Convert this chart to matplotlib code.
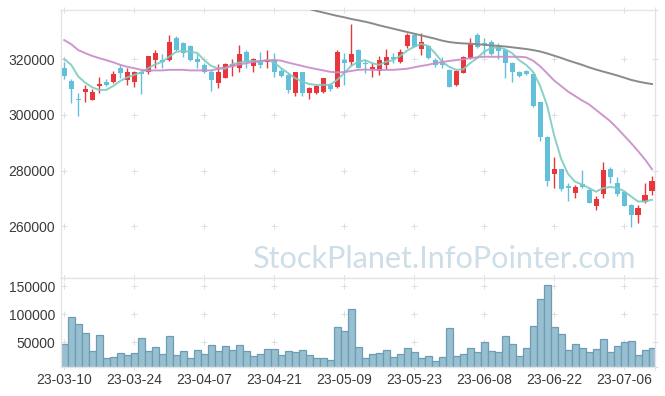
import numpy as np
import matplotlib.pyplot as plt

# daily candles, 2023-03-10 .. 2023-07-12 (85 trading days)
tick_labels = ['23-03-10', '23-03-24', '23-04-07', '23-04-21', '23-05-09',
               '23-05-23', '23-06-08', '23-06-22', '23-07-06']
tick_index = [0, 10, 20, 30, 40, 50, 60, 70, 80]

opens = [316900, 312200, 305600, 308400, 305500, 310400, 311900, 311900, 317000, 312600,
         312000, 315500, 315500, 319900, 319700, 319700, 327600, 325900, 324700, 320100,
         318000, 315400, 311600, 313400, 317700, 317000, 322700, 317700, 319500, 319100,
         319700, 315800, 314400, 307800, 315300, 308000, 307800, 308400, 310800, 310200,
         319700, 319100, 323300, 318600, 316600, 315900, 318000, 320600, 319100, 324800,
         328700, 323600, 324800, 319700, 318600, 316200, 310800, 315200, 320600, 328700,
         325700, 326100, 324300, 323300, 318800, 315400, 315800, 314700, 304600, 292000,
         278600, 280500, 274300, 272100, 275100, 273100, 267100, 271500, 280600, 275500,
         272300, 267700, 263900, 268800, 272800]
highs = [319100, 312800, 307800, 310800, 309200, 313500, 312900, 315700, 318100, 317000,
         315700, 315900, 321300, 323300, 321800, 328700, 328400, 326200, 325000, 321900,
         318600, 316200, 318200, 318600, 320200, 325100, 323300, 320400, 322500, 323300,
         322400, 316800, 315000, 315500, 315500, 310000, 310800, 313400, 311400, 323300,
         322400, 332700, 323600, 319700, 318800, 321200, 323600, 322400, 323600, 329300,
         329100, 329500, 325100, 320400, 320900, 316400, 316200, 321200, 327500, 329300,
         327500, 326900, 325700, 323600, 319100, 315800, 316200, 315500, 304800, 292500,
         285000, 280500, 275500, 274900, 280300, 273700, 270700, 283000, 281400, 277600,
         272500, 267900, 267700, 275500, 278100]
lows = [312900, 304200, 299600, 304800, 305400, 307800, 310400, 311600, 313400, 310700,
        310200, 307600, 314700, 317000, 317000, 319400, 323100, 320700, 319500, 316800,
        315200, 308600, 309600, 313200, 314100, 315500, 317000, 315500, 316800, 316800,
        313800, 313800, 307800, 306800, 306800, 305600, 307500, 308000, 308700, 309600,
        310800, 318000, 316800, 315000, 313800, 314300, 316400, 318600, 318800, 323900,
        324300, 321500, 320000, 317300, 316800, 309900, 310400, 315000, 320000, 323900,
        321500, 321400, 320000, 313200, 312000, 313500, 314400, 303000, 290800, 274300,
        273700, 272500, 269100, 270100, 273700, 268300, 265900, 270100, 275500, 270700,
        267300, 259900, 261100, 268500, 271300]
closes = [314100, 309400, 305200, 309300, 308300, 311100, 310800, 314700, 315200, 315400,
          315400, 314700, 321200, 322300, 319000, 326200, 323300, 322400, 319700, 319000,
          315500, 312600, 315400, 318200, 318400, 321900, 319100, 320100, 318000, 319900,
          315500, 314100, 309000, 315300, 308000, 309600, 310400, 313200, 309300, 322500,
          318600, 322000, 317000, 318200, 317300, 319700, 320700, 320200, 322600, 328700,
          324500, 326100, 320400, 318000, 317800, 310200, 315900, 320700, 325700, 324300,
          325500, 321800, 323100, 318600, 315300, 314100, 314600, 303300, 291900, 276400,
          280500, 273300, 273700, 274000, 274000, 268500, 269700, 280300, 277600, 271500,
          267400, 263900, 266500, 271200, 276200]

ma5 = [320100, 318000, 313800, 311600, 309900, 309000, 309000, 310400, 312200, 313500,
       314400, 315300, 316800, 318200, 319100, 320900, 322700, 323000, 322700, 322300,
       319700, 317600, 316700, 316600, 318200, 318800, 319400, 319400, 319100, 319800,
       318800, 316800, 315000, 313200, 312000, 311100, 310800, 310800, 310800, 312600,
       315000, 317600, 319100, 319700, 318600, 318000, 319100, 319700, 321200, 323100,
       324500, 325500, 324800, 322200, 319100, 317300, 316200, 316400, 318600, 320400,
       322700, 324000, 324300, 323600, 322200, 319700, 318000, 315500, 310500, 303500,
       292800, 284300, 278800, 276000, 275000, 273700, 272400, 273700, 274100, 273800,
       272600, 270700, 268900, 268900, 269500]
ma20 = [326900, 325400, 323300, 322200, 321200, 320400, 319700, 318900, 318000, 317300,
        316800, 316200, 315900, 316000, 316000, 316200, 316200, 316200, 316000, 316000,
        316000, 316000, 316600, 317000, 317500, 318100, 318600, 319000, 319400, 319600,
        319700, 319500, 318800, 318200, 317600, 317000, 316500, 316000, 315500, 315300,
        315400, 315800, 316200, 316300, 316200, 316200, 316200, 316200, 316400, 316600,
        317100, 317600, 318000, 318600, 319000, 319400, 319700, 320000, 320400, 320700,
        320900, 320900, 320900, 320900, 320900, 320900, 320700, 319500, 317500, 315000,
        312400, 310400, 308400, 306800, 305200, 303800, 301800, 299800, 297800, 295300,
        292600, 289900, 287000, 284000, 280500]
# long average runs above the visible range before mid-April
ma60 = [np.nan] * 35 + [
    338100, 337400, 336800, 336200, 335600, 335100, 334500, 334000, 333500, 332900,
    332200, 331600, 331000, 330400, 329800, 329200, 328600, 328000, 327400, 326700,
    326200, 325900, 325700, 325600, 325400, 325200, 325000, 324800, 324600, 324300,
    324000, 323700, 323300, 322800, 322100, 321300, 320500, 319600, 318800, 318000,
    317100, 316300, 315600, 314900, 314200, 313400, 312600, 312000, 311500, 311100]

volume = [47000, 95300, 83200, 66900, 34400, 63300, 21700, 23000, 30700, 27100,
          30700, 57300, 34400, 41000, 28900, 60900, 27100, 34400, 21700, 35600,
          28900, 44700, 34400, 42800, 36200, 44700, 34400, 24700, 28400, 37400,
          37400, 27100, 34400, 32500, 36200, 27100, 21700, 21700, 18100, 77200,
          69900, 109700, 41000, 21100, 28300, 30100, 35600, 22900, 28300, 39200,
          31900, 21100, 24700, 15700, 22900, 75300, 24700, 28300, 39200, 31900,
          50000, 34400, 31900, 60900, 46400, 24700, 39200, 78900, 127800, 151900,
          77100, 64500, 35600, 46400, 39200, 31900, 37400, 55500, 31900, 42800,
          50000, 51900, 26500, 35600, 39200]

RED = '#e8373c'
BLUE = '#62c0da'
FRAME = '#e4e4e4'
CROSS = '#dedede'
TEXT = '#3a3a3a'

W, H = 665, 396
fig = plt.figure(figsize=(W / 100, H / 100), dpi=100)
fig.patch.set_facecolor('white')

left, right = 61.3, 655.3
ax_price = fig.add_axes([left / W, 1 - 277.7 / H, (right - left) / W, (277.7 - 10.3) / H])
ax_vol = fig.add_axes([left / W, 1 - 367.0 / H, (right - left) / W, (367.0 - 277.7) / H],
                      sharex=ax_price)

o = np.array(opens)
c = np.array(closes)
x = np.arange(len(c))
colors = np.where(c >= o, RED, BLUE)

ax_price.vlines(x, lows, highs, colors=colors, lw=1, zorder=2)
ax_price.bar(x, np.maximum(np.abs(c - o), 450), bottom=np.minimum(o, c), width=0.72,
             color=colors, linewidth=0, zorder=3)

ax_price.plot(x, ma5, color='#7ccbc0', lw=1.4, alpha=0.9, zorder=4)
ax_price.plot(x, ma20, color='#c98bc9', lw=1.4, alpha=0.9, zorder=4)
ax_price.plot(x, ma60, color='#8a8a8a', lw=1.4, zorder=4)

ax_price.set_ylim(241500, 337600)
ax_price.set_xlim(-0.42, 84.47)
price_ticks = [260000, 280000, 300000, 320000]
ax_price.set_yticks(price_ticks)
ax_price.set_yticklabels([str(v) for v in price_ticks])

ax_vol.bar(x, volume, width=1.0, color='#97bfd0', edgecolor='#6c9db4', linewidth=0.9, zorder=2)
ax_vol.set_ylim(5400, 165700)
vol_ticks = [50000, 100000, 150000]
ax_vol.set_yticks(vol_ticks)
ax_vol.set_yticklabels([str(v) for v in vol_ticks])
ax_vol.set_xticks(tick_index)
ax_vol.set_xticklabels(tick_labels)

# grid is drawn as small crosses at the intersections
for ax, yt in ((ax_price, price_ticks), (ax_vol, vol_ticks)):
    lo, hi = ax.get_ylim()
    gx, gy = np.meshgrid(tick_index + [ax.get_xlim()[1]], yt + [lo, hi])
    ax.scatter(gx.ravel(), gy.ravel(), marker='+', s=18, color=CROSS, lw=0.7,
               zorder=1, clip_on=False)
    for s in ax.spines.values():
        s.set_color(FRAME)
        s.set_linewidth(1)
    ax.tick_params(length=0, pad=4.5, labelsize=10, colors=TEXT)
    for lab in ax.get_xticklabels() + ax.get_yticklabels():
        lab.set_family('Liberation Sans')

plt.setp(ax_price.get_xticklabels(), visible=False)
ax_price.tick_params(axis='x', length=0)

# watermark, sized to span x = 253..637 px
mark = fig.text(445 / W, 1 - 268 / H, 'StockPlanet.InfoPointer.com', ha='center',
                va='baseline', fontsize=24, color='#cddee8', family='Lato', zorder=0)
renderer = fig.canvas.get_renderer()
width_px = mark.get_window_extent(renderer).width
mark.set_fontsize(24 * 384 / width_px)

fig.savefig('out.png', dpi=100, facecolor='white')
